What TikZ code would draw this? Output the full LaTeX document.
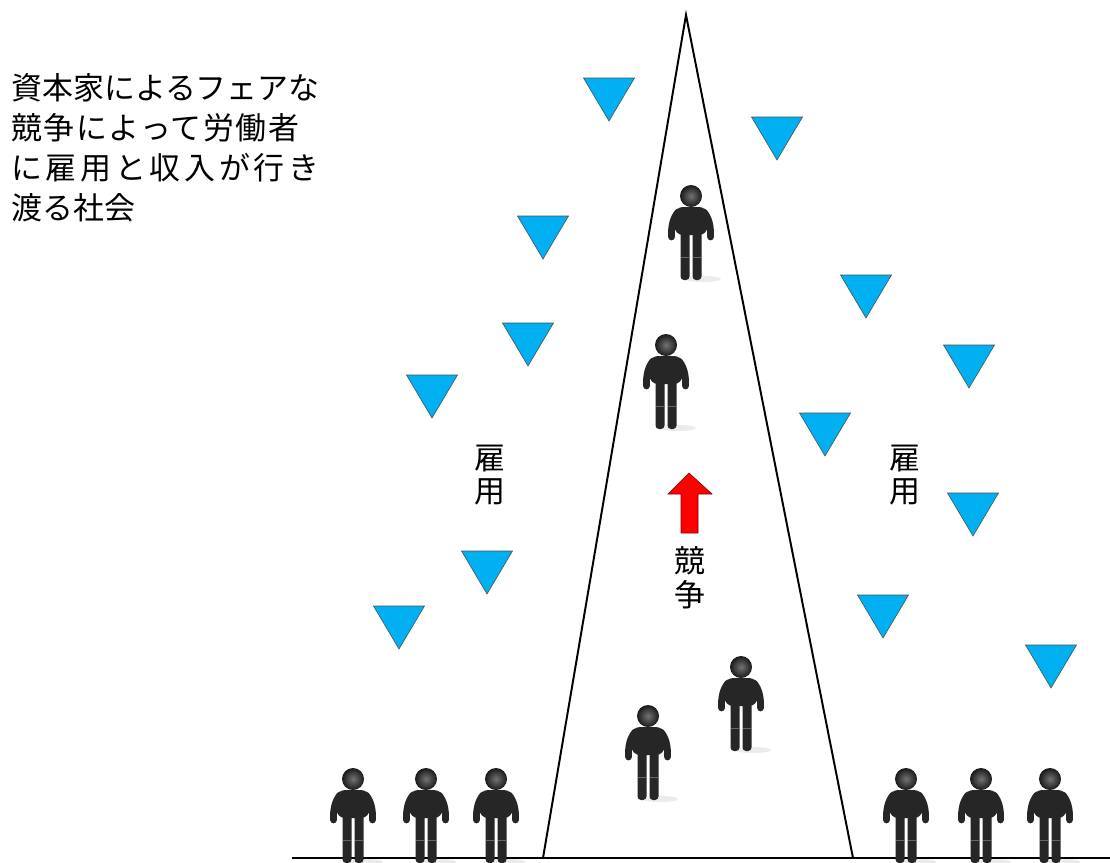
\documentclass[tikz,border=0pt]{standalone}
\usepackage{fontspec}
\newfontfamily\jpfont{Noto Sans CJK JP}
\begin{document}
\begin{tikzpicture}[x=0.025cm,y=-0.025cm,
  jtext/.style={font=\jpfont\fontsize{22}{28.5}\selectfont, inner sep=0pt},
  vtext/.style={font=\jpfont\fontsize{22}{24}\selectfont, inner sep=0pt, align=center},
  drop/.pic={
    \filldraw[fill={rgb,255:red,0;green,176;blue,240}, draw=black!70, line width=0.4pt]
      (-25.5,0) -- (25.5,0) -- (0,43) -- cycle;
  },
  person/.pic={
    % ground shadow
    \fill[black!8] (12,83) ellipse (18 and 3);
    % legs
    \fill[black!85, rounded corners=2.5] (-10.5,35) rectangle (-1.5,84);
    \fill[black!85, rounded corners=2.5] (1.5,35) rectangle (10.5,84);
    \draw[black!60, line width=0.4pt] (-10,61) -- (-2,61) (2,61) -- (10,61);
    % arms
    \draw[black!85, line width=4.8pt, line cap=round]
      (-13,16) .. controls (-18,22) and (-20,30) .. (-19.5,41);
    \draw[black!85, line width=4.8pt, line cap=round]
      (13,16) .. controls (18,22) and (20,30) .. (19.5,41);
    % torso
    \fill[black!85, rounded corners=6] (-16.5,11) rectangle (16.5,39);
    % head
    \shade[inner color=black!55, outer color=black!90] (0,0) circle (11);
  }]
\useasboundingbox (0,0) rectangle (1110,862);

% competition cone and ground line
\coordinate (apex) at (686,15);
\coordinate (coneL) at (543,858);
\coordinate (coneR) at (853,858);
\coordinate (groundL) at (292,858);
\coordinate (groundR) at (1110,858);
\draw[line width=1.4pt, line join=miter] (coneL) -- (apex) -- (coneR);
\draw[line width=1.6pt] (groundL) -- (groundR);

% employment markers
\foreach \x/\y in {609/78, 777/117, 543/216, 866/275, 528/323, 969/345,
                   432/375, 825/413, 973/493, 487/551, 399/606, 883/595, 1051/645}
  \pic at (\x,\y) {drop};

% workers
\foreach \x/\y in {691/196, 666/345, 741/667, 648/716,
                   353/779, 426/779, 496/779, 906/779, 981/779, 1050/779}
  \pic at (\x,\y) {person};

% upward arrow of competition
\filldraw[fill=red, draw=red!50!black, line width=0.4pt]
  (689,473) -- (712,494) -- (698,494) -- (698,533) -- (681,533) -- (681,494) -- (668,494) -- cycle;

% labels
\node[jtext, anchor=west, align=left] (title) at (11,148)
  {資本家によるフェアな\\
   {\addfontfeature{LetterSpace=4.8}競争によって労働者}\\
   {\addfontfeature{LetterSpace=12}に雇用と収入が行き}\\
   渡る社会};
\node[vtext] (empL) at (490,475) {雇\\用};
\node[vtext] (empR) at (905,475) {雇\\用};
\node[vtext] (comp) at (690,578) {競\\争};
\end{tikzpicture}
\end{document}
